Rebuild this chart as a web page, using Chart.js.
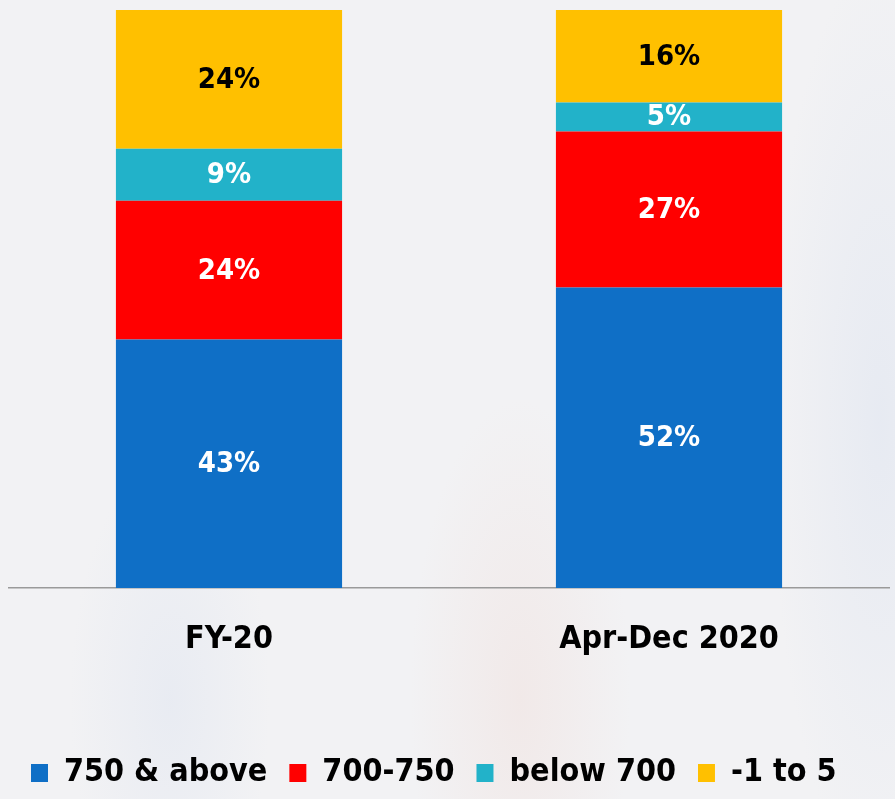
<!DOCTYPE html>
<html>
<head>
<meta charset="utf-8">
<script src="https://cdn.jsdelivr.net/npm/chart.js@4/dist/chart.umd.min.js"></script>
<style>
  html, body { margin: 0; padding: 0; }
  body {
    width: 895px; height: 799px; overflow: hidden;
    background:
      radial-gradient(ellipse 110px 300px at 520px 700px, rgba(240, 222, 218, 0.45), rgba(240, 222, 218, 0) 100%),
      radial-gradient(ellipse 100px 240px at 170px 700px, rgba(226, 231, 241, 0.6), rgba(226, 231, 241, 0) 100%),
      radial-gradient(ellipse 110px 460px at 880px 420px, rgba(226, 231, 241, 0.7), rgba(226, 231, 241, 0) 100%),
      #f2f2f4;
  }
  #wrap { position: relative; width: 895px; height: 799px; }
</style>
</head>
<body>
<div id="wrap"><canvas id="chart"></canvas></div>
<script>
// data
const categories = ['FY-20', 'Apr-Dec 2020'];
const seriesNames = ['750 & above', '700-750', 'below 700', '-1 to 5'];
const above750 = [43, 52];
const from700to750 = [24, 27];
const below700 = [9, 5];
const minus1to5 = [24, 16];

const colors = ['#0f6fc6', '#ff0000', '#22b2c9', '#ffc000'];
const labelColors = ['#ffffff', '#ffffff', '#ffffff', '#000000'];
const FONT = '"DejaVu Sans Condensed", "DejaVu Sans", sans-serif';

// draws the % value in the middle of every segment
const segmentLabels = {
    id: 'segmentLabels',
    afterDatasetsDraw(chart) {
        const ctx = chart.ctx;
        ctx.save();
        ctx.font = 'bold 29px ' + FONT;
        ctx.textAlign = 'center';
        ctx.textBaseline = 'middle';
        chart.data.datasets.forEach((ds, i) => {
            const meta = chart.getDatasetMeta(i);
            meta.data.forEach((bar, j) => {
                const p = bar.getCenterPoint();
                ctx.fillStyle = labelColors[i];
                ctx.fillText(ds.data[j] + '%', p.x, p.y + 1);
            });
        });
        ctx.restore();
    }
};

const seriesData = [above750, from700to750, below700, minus1to5];

new Chart(document.getElementById('chart'), {
    type: 'bar',
    data: {
        labels: categories,
        datasets: seriesNames.map((name, i) => ({
            label: name,
            data: seriesData[i],
            backgroundColor: colors[i],
            borderWidth: 0,
            categoryPercentage: 1,
            barPercentage: 0.514
        }))
    },
    options: {
        responsive: true,
        maintainAspectRatio: false,
        animation: false,
        layout: { padding: { top: 10, left: 9, right: 6, bottom: 0 } },
        plugins: {
            tooltip: { enabled: false },
            legend: {
                position: 'bottom',
                align: 'start',
                labels: {
                    boxWidth: 17,
                    boxHeight: 18,
                    padding: 22,
                    color: '#000000',
                    font: { family: FONT, size: 32, weight: 'bold' }
                }
            }
        },
        scales: {
            x: {
                stacked: true,
                grid: { display: false, drawTicks: false },
                border: { display: true, color: '#9a9a9a', width: 1.5 },
                ticks: {
                    color: '#000000',
                    padding: 32,
                    font: { family: FONT, size: 32, weight: 'bold' }
                },
                afterFit(scale) { scale.height = 147; }
            },
            y: {
                stacked: true,
                display: false,
                min: 0,
                max: 100
            }
        }
    },
    plugins: [segmentLabels]
});
</script>
</body>
</html>
